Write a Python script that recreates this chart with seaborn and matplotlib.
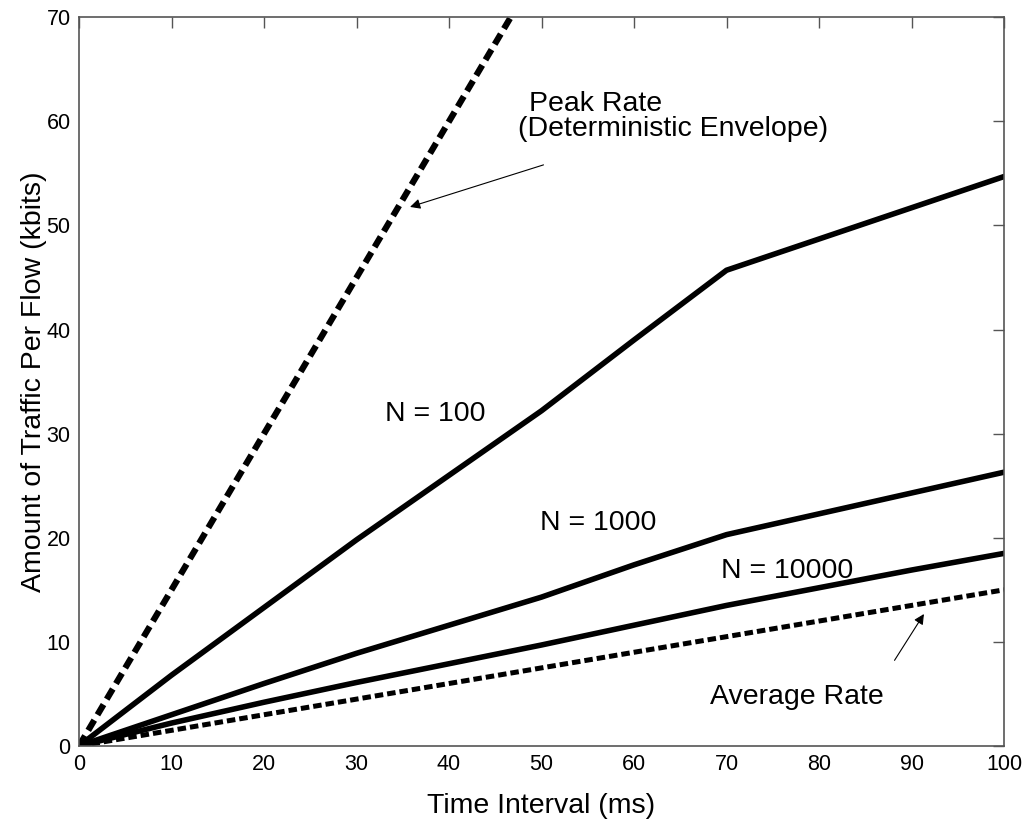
import matplotlib
matplotlib.use("Agg")
import matplotlib.pyplot as plt
import seaborn as sns
import pandas as pd

# values
t_ms = [0, 10, 20, 30, 40, 50, 60, 70, 80, 90, 100]
peak_rate = [0, 15, 30, 45, 60, 75, 90, 105, 120, 135, 150]
n100 = [0, 6.8, 13.3, 19.8, 26.0, 32.2, 39.0, 45.7, 48.7, 51.7, 54.7]
n1000 = [0, 3.0, 6.0, 8.9, 11.6, 14.3, 17.4, 20.3, 22.3, 24.3, 26.3]
n10000 = [0, 2.2, 4.2, 6.1, 7.9, 9.7, 11.6, 13.5, 15.2, 16.9, 18.5]
avg_rate = [0, 1.5, 3.0, 4.5, 6.0, 7.5, 9.0, 10.5, 12.0, 13.5, 15.0]

sns.set_style("white")
plt.rcParams["font.family"] = ["Liberation Sans", "DejaVu Sans"]
plt.rcParams["text.color"] = "black"
plt.rcParams["axes.labelcolor"] = "black"
plt.rcParams["xtick.color"] = "black"
plt.rcParams["ytick.color"] = "black"

fig = plt.figure(figsize=(10.3, 8.22), dpi=100)
ax = fig.add_axes([0.0767, 0.0925, 0.8981, 0.8865])

df = pd.DataFrame({"t": t_ms, "peak": peak_rate, "n100": n100,
                   "n1000": n1000, "n10000": n10000, "avg": avg_rate})

sns.lineplot(data=df, x="t", y="peak", ax=ax, color="black", lw=4.5,
             linestyle=(0, (1.9, 1.0)))
for col in ["n100", "n1000", "n10000"]:
    sns.lineplot(data=df, x="t", y=col, ax=ax, color="black", lw=4.0)
sns.lineplot(data=df, x="t", y="avg", ax=ax, color="black", lw=3.6,
             linestyle=(0, (1.7, 0.8)))

ax.set_xlim(0, 100)
ax.set_ylim(0, 70)
ax.set_xticks(range(0, 101, 10))
ax.set_yticks(range(0, 71, 10))
ax.tick_params(direction="in", length=8, width=1, top=True, right=True,
               labelsize=15.5, pad=6)
ax.tick_params(colors="#555555", labelcolor="black")
for s in ax.spines.values():
    s.set_color("#555555")
    s.set_linewidth(1.2)

ax.set_xlabel("Time Interval (ms)", fontsize=20.5)
ax.set_ylabel("Amount of Traffic Per Flow (kbits)", fontsize=20.5)
ax.xaxis.set_label_coords(0.5, -0.064)
ax.yaxis.set_label_coords(-0.035, 0.5)

fs = 20.5
ax.text(48.6, 61.7, "Peak Rate", fontsize=fs, va="center", ha="left")
ax.text(47.5, 59.3, "(Deterministic Envelope)", fontsize=fs, va="center", ha="left")
ax.text(38.5, 31.9, "N = 100", fontsize=fs, va="center", ha="center")
ax.text(56.1, 21.4, "N = 1000", fontsize=fs, va="center", ha="center")
ax.text(76.5, 16.8, "N = 10000", fontsize=fs, va="center", ha="center")
ax.text(77.6, 4.7, "Average Rate", fontsize=fs, va="center", ha="center")

ax.annotate("", xy=(35.5, 51.7), xytext=(50.5, 55.9),
            arrowprops=dict(arrowstyle="-|>", color="black", lw=0.8,
                            mutation_scale=15))
ax.annotate("", xy=(91.5, 12.9), xytext=(88.0, 8.0),
            arrowprops=dict(arrowstyle="-|>", color="black", lw=0.8,
                            mutation_scale=15))

fig.savefig("out.png", dpi=100)
